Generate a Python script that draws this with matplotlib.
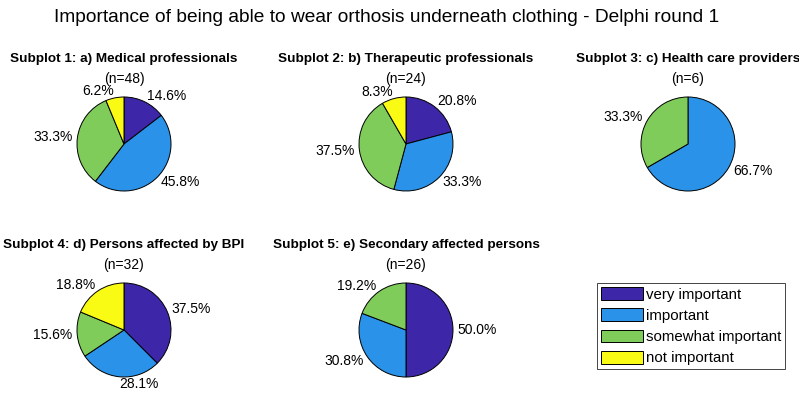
import matplotlib
matplotlib.use("Agg")
import matplotlib.pyplot as plt
import numpy as np
from matplotlib.patches import Patch

plt.rcParams["font.family"] = ["Liberation Sans", "DejaVu Sans"]

# Data (counts per group, order: very / important / somewhat / not)
categories = ["very important", "important", "somewhat important", "not important"]
colors = ["#3E26A8", "#2A92E8", "#80CC5A", "#F9FB15"]

group_titles = [
    "Subplot 1: a) Medical professionals",
    "Subplot 2: b) Therapeutic professionals",
    "Subplot 3: c) Health care providers",
    "Subplot 4: d) Persons affected by BPI",
    "Subplot 5: e) Secondary affected persons",
]
medical = [7, 22, 16, 3]
therapeutic = [5, 8, 9, 2]
health_care = [0, 4, 2, 0]
persons_bpi = [12, 9, 5, 6]
secondary = [13, 8, 5, 0]
groups = [medical, therapeutic, health_care, persons_bpi, secondary]

# Layout in pixels (figure 799 x 407)
W, H = 799, 407
R = 47
centers = [(124, 144), (406, 144), (688, 144), (124, 330), (406, 330)]

fig = plt.figure(figsize=(W / 100, H / 100), dpi=100)
fig.patch.set_facecolor("white")

fig.text(387 / W, 1 - 18 / H, "Importance of being able to wear orthosis underneath clothing - Delphi round 1",
         ha="center", va="center", fontsize=13.8)

half = 100
for title, counts, (cx, cy) in zip(group_titles, groups, centers):
    ax = fig.add_axes([(cx - half) / W, (H - cy - half) / H, 2 * half / W, 2 * half / H])
    counts = np.array(counts, dtype=float)
    keep = counts > 0
    vals = counts[keep]
    cols = [c for c, k in zip(colors, keep) if k]
    ax.pie(vals, colors=cols, startangle=90, counterclock=False,
           wedgeprops=dict(edgecolor="black", linewidth=0.7))
    lim = half / R
    ax.set_xlim(-lim, lim)
    ax.set_ylim(-lim, lim)
    ax.set_aspect("equal")
    ax.axis("off")

    # percent labels, MATLAB style
    frac = vals / vals.sum()
    cum = np.concatenate([[0], np.cumsum(frac)[:-1]])
    for f, c0 in zip(frac, cum):
        ang = np.deg2rad(90 - 360 * (c0 + f / 2))
        dx, dy = np.cos(ang), np.sin(ang)
        ha = "left" if dx > -0.15 else "right"
        ax.text(1.1 * dx, 1.15 * dy, f"{100 * f:.1f}%", ha=ha, va="center", fontsize=10)

    fig.text(cx / W, 1 - (cy - 85) / H, title, ha="center", va="center",
             fontsize=9.7, fontweight="bold")
    fig.text(cx / W, 1 - (cy - 65) / H, f"(n={int(counts.sum())})", ha="center", va="center", fontsize=10)

handles = [Patch(facecolor=c, edgecolor="black", linewidth=0.7) for c in colors]
leg = fig.legend(handles, categories, loc="upper left", bbox_to_anchor=(597 / W, 1 - 283 / H),
                 fontsize=10.8, frameon=True, fancybox=False, framealpha=1,
                 edgecolor="#262626", handlelength=2.8, handleheight=0.93,
                 handletextpad=0.2, labelspacing=0.45, borderpad=0.27, borderaxespad=0)
leg.get_frame().set_linewidth(0.6)

fig.savefig("out.png", dpi=100, facecolor="white")
